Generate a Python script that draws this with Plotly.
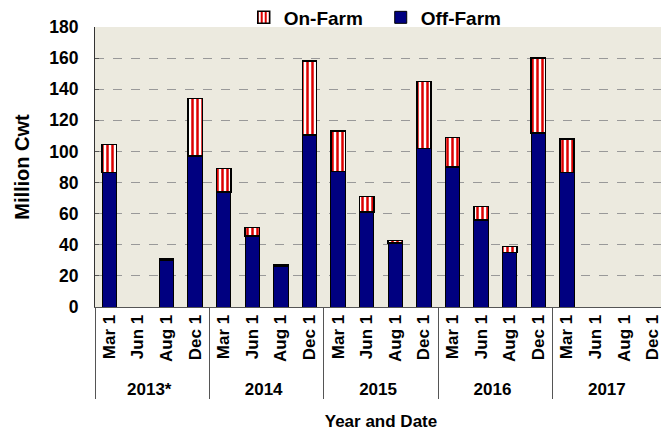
import plotly.graph_objects as go

years = ["2013*"] * 4 + ["2014"] * 4 + ["2015"] * 4 + ["2016"] * 4 + ["2017"] * 4
months = ["Mar 1", "Jun 1", "Aug 1", "Dec 1"] * 5
off_farm = [86.5, None, 30, 97, 74, 45.5, 26, 110.5, 87, 61, 41.3, 102,
            90, 56, 35, 112, 86.5, None, None, None]
on_farm = [18, None, 1, 37, 15, 5.5, 1, 47.5, 26, 10, 1.3, 43,
           19, 8.5, 3.8, 48, 21.5, None, None, None]

FONT = "Liberation Sans, Arial, sans-serif"

fig = go.Figure()
fig.add_trace(go.Bar(
    x=[years, months], y=off_farm, name="Off-Farm",
    marker=dict(color="#000080", line=dict(color="#000000", width=1)),
))
fig.add_trace(go.Bar(
    x=[years, months], y=on_farm, name="On-Farm",
    marker=dict(color="#ffffff", line=dict(color="#000000", width=1.5),
                pattern=dict(shape="|", fgcolor="#dd0000", bgcolor="#ffffff",
                             size=5, solidity=0.5, fgopacity=1)),
))

fig.update_layout(
    width=661, height=423,
    barmode="stack", bargap=0.5,
    paper_bgcolor="#ffffff", plot_bgcolor="#eceadf",
    margin=dict(l=87, r=2, t=19, b=124, autoexpand=False),
    font=dict(family=FONT, size=13, color="#000000", weight="bold"),
    showlegend=True,
    legend=dict(orientation="h", x=0.26, xanchor="left",
                yref="paper", y=1.034, yanchor="middle",
                traceorder="reversed", font=dict(size=19, family=FONT, weight="bold"),
                bgcolor="rgba(0,0,0,0)", itemwidth=30, entrywidth=92,
                tracegroupgap=0),
    xaxis=dict(
        type="multicategory", tickangle=-90, automargin=False,
        showdividers=True, dividercolor="#555555", dividerwidth=1,
        showline=True, linecolor="#555555", linewidth=1,
        tickfont=dict(family=FONT, size=17, color="#000000", weight="bold"),
        title=dict(text="Year and Date", font=dict(size=17, weight="bold"), standoff=17),
        showgrid=False,
    ),
    yaxis=dict(
        range=[0, 180], dtick=20, automargin=False,
        showline=True, linecolor="#333333", linewidth=1, mirror=True,
        showgrid=True, gridcolor="#999999", griddash="dash", gridwidth=1,
        zeroline=False, ticks="inside", ticklen=4, tickcolor="#555555",
        ticklabelstandoff=12,
        tickfont=dict(family=FONT, size=17.5, color="#000000", weight="bold"),
        title=dict(text="Million Cwt", font=dict(size=20, weight="bold"), standoff=14),
    ),
)

fig.write_html("out.html")
